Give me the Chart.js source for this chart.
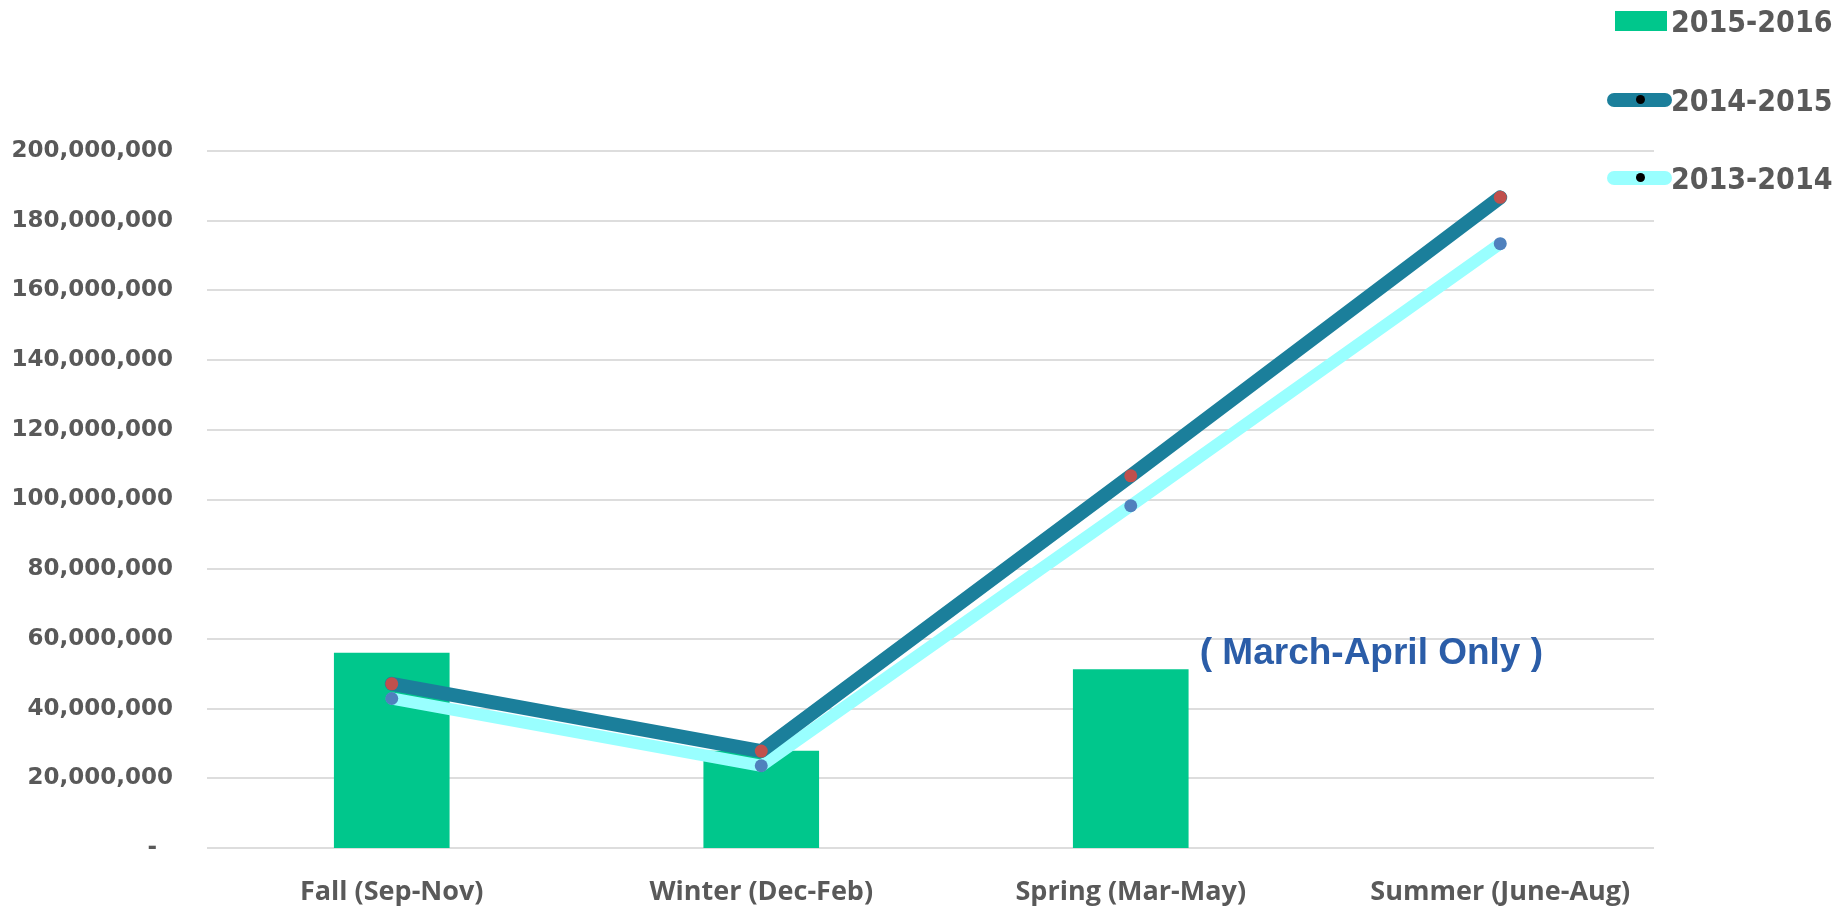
<!DOCTYPE html>
<html>
<head>
<meta charset="utf-8">
<script src="https://cdn.jsdelivr.net/npm/chart.js@4.4.1/dist/chart.umd.min.js"></script>
<style>
  body { margin: 0; background: #fff; }
  #wrap { position: relative; width: 1846px; height: 907px; }
  #legend { position: absolute; left: 1600px; top: 0; font-family: "DejaVu Sans Condensed", "DejaVu Sans", sans-serif; font-weight: bold; font-size: 30px; color: #595959; }
  .item { position: absolute; left: 0; height: 30px; display: flex; align-items: center; white-space: nowrap; }
  .sw { position: relative; width: 70px; height: 30px; margin-right: 1px; }
  .sw .box { position: absolute; left: 15px; top: 5px; width: 52px; height: 20px; }
  .sw .ln { position: absolute; left: 7px; top: 8px; width: 65px; height: 14px; border-radius: 7px; }
  .sw .dot { position: absolute; left: 36px; top: 10px; width: 9px; height: 9px; border-radius: 50%; background: #000; }
</style>
</head>
<body>
<div id="wrap">
  <canvas id="myChart"></canvas>
  <div id="legend"></div>
</div>
<script>
var seasons = ["Fall (Sep-Nov)", "Winter (Dec-Feb)", "Spring (Mar-May)", "Summer (June-Aug)"];
var labels = ["2015-2016", "2014-2015", "2013-2014"];
var sales1516 = [56000000, 27900000, 51300000, null];
var sales1415 = [47100000, 27800000, 106800000, 186700000];
var sales1314 = [42900000, 23600000, 98200000, 173400000];
var yMax = 200000000;
var yStep = 20000000;
var note = "( March-April Only )";

var green = "#00C78C", teal = "#1B7F9B", cyan = "#99FFFF";

// light gray gridlines that stop a bit short of the right edge, like the original
var gridPlugin = {
    id: "shortGrid",
    beforeDatasetsDraw: function (chart) {
        var ctx = chart.ctx, y = chart.scales.y, a = chart.chartArea;
        ctx.save();
        ctx.strokeStyle = "#DDDDDD";
        ctx.lineWidth = 2;
        y.ticks.forEach(function (t) {
            var py = Math.round(y.getPixelForValue(t.value));
            ctx.beginPath();
            ctx.moveTo(a.left, py);
            ctx.lineTo(a.right - 31, py);
            ctx.stroke();
        });
        ctx.restore();
    }
};

var notePlugin = {
    id: "note",
    afterDraw: function (chart) {
        var ctx = chart.ctx;
        var x = chart.scales.x.getPixelForValue(2) + 69;
        var y = chart.scales.y.getPixelForValue(sales1516[2]) - 15;
        ctx.save();
        ctx.font = "bold 37px 'Liberation Sans', Arial, sans-serif";
        ctx.fillStyle = "#2B5DA8";
        ctx.textBaseline = "middle";
        ctx.fillText(note, x, y);
        ctx.restore();
    }
};

var chart = new Chart("myChart", {
    type: "bar",
    data: {
        labels: seasons,
        datasets: [{
            type: "line",
            label: labels[1],
            data: sales1415,
            borderColor: teal,
            borderWidth: 14,
            borderJoinStyle: "round",
            borderCapStyle: "round",
            pointRadius: 6.5,
            pointBorderWidth: 0,
            pointBackgroundColor: "#C0504D",
            tension: 0,
            order: 1
        }, {
            type: "line",
            label: labels[2],
            data: sales1314,
            borderColor: cyan,
            borderWidth: 12,
            borderJoinStyle: "round",
            borderCapStyle: "round",
            pointRadius: 6.5,
            pointBorderWidth: 0,
            pointBackgroundColor: "#4F81BD",
            tension: 0,
            order: 2
        }, {
            label: labels[0],
            data: sales1516,
            backgroundColor: green,
            categoryPercentage: 1,
            barPercentage: 0.313,
            order: 3
        }]
    },
    options: {
        responsive: true,
        maintainAspectRatio: false,
        animation: false,
        layout: { padding: { left: 10, top: 151, right: 161, bottom: 0 } },
        plugins: {
            legend: { display: false },
            tooltip: { enabled: false }
        },
        scales: {
            x: {
                grid: { display: false },
                border: { display: false },
                ticks: {
                    color: "#595959",
                    padding: 20,
                    maxRotation: 0,
                    font: { family: "'Open Sans', sans-serif", weight: "bold", size: 27 }
                },
                afterFit: function (s) { s.height = 59; }
            },
            y: {
                min: 0,
                max: yMax,
                grid: { display: false, drawTicks: false },
                border: { display: false },
                ticks: {
                    stepSize: yStep,
                    color: "#595959",
                    padding: 34,
                    font: { family: "'DejaVu Sans', sans-serif", weight: "bold", size: 23 },
                    callback: function (v) { return v === 0 ? "-  " : v.toLocaleString("en-US"); }
                },
                afterFit: function (s) { s.width = 197; }
            }
        }
    },
    plugins: [gridPlugin, notePlugin]
});

// legend built from the same labels / colours
var legend = document.getElementById("legend");
var items = [
    { text: labels[0], kind: "box", color: green, top: 6 },
    { text: labels[1], kind: "line", color: teal, top: 85 },
    { text: labels[2], kind: "line", color: cyan, top: 163 }
];
items.forEach(function (it) {
    var d = document.createElement("div");
    d.className = "item";
    d.style.top = it.top + "px";
    var sw = document.createElement("div");
    sw.className = "sw";
    if (it.kind === "box") {
        sw.innerHTML = '<div class="box" style="background:' + it.color + '"></div>';
    } else {
        sw.innerHTML = '<div class="ln" style="background:' + it.color + '"></div><div class="dot"></div>';
    }
    d.appendChild(sw);
    var t = document.createElement("span");
    t.textContent = it.text;
    d.appendChild(t);
    legend.appendChild(d);
});
</script>
</body>
</html>
